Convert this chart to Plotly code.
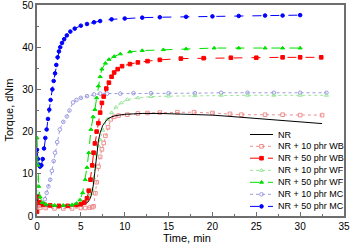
import plotly.graph_objects as go

# ---------------- data ----------------
nr_t = [0, 0.2, 0.5, 1, 2, 3, 4, 5, 5.5, 5.8, 6.0, 6.2, 6.4, 6.6, 6.8, 7.0, 7.2, 7.5, 8.0, 8.5, 9.0, 9.5,
        10, 11, 12, 14, 16, 18, 20, 22, 24, 26, 28, 30, 32.5]
nr_T = [4.0, 3.0, 2.6, 2.4, 2.3, 2.3, 2.4, 2.6, 2.9, 3.3, 3.9, 5.0, 7.0, 10.5, 15.0, 17.8, 19.7, 21.5, 22.9, 23.5, 23.8, 24.0,
        24.1, 24.2, 24.3, 24.3, 24.2, 24.0, 23.9, 23.6, 23.3, 23.0, 22.7, 22.4, 21.9]

wb10_t = [0, 0.15, 0.4, 1, 2, 3, 4, 5, 5.5, 6.0, 6.3, 6.45, 6.65, 6.8, 7.0, 7.2, 7.4, 7.6, 7.8, 8.1, 8.4, 8.8,
          9.3, 10.3, 11.5, 12.6, 14, 16, 17.9, 20, 22, 23.3, 26, 28, 30, 32.5]
wb10_T = [3.5, 2.5, 2.0, 1.9, 1.8, 1.8, 1.8, 1.9, 1.9, 2.0, 2.1, 2.3, 5.4, 8.0, 11.7, 14.0, 15.8, 17.3, 19.0, 21.0, 22.9, 23.5,
          23.8, 24.0, 24.3, 24.4, 24.5, 24.6, 24.6, 24.4, 24.2, 24.0, 24.0, 24.0, 23.9, 23.9]

wb50_t = [0, 0.05, 0.3, 0.7, 1.5, 2.5, 3.5, 4.5, 5.0, 5.4, 5.7, 5.9, 6.1, 6.3, 6.45, 6.6, 6.8, 7.0, 7.2, 7.4,
          7.6, 7.9, 8.2, 8.5, 8.8, 9.2, 9.7, 10.6, 11.5, 12.6, 14, 16.4, 19, 22.1, 25, 28, 30, 32.4]
wb50_T = [1.0, 4.6, 3.2, 2.7, 2.5, 2.4, 2.4, 2.6, 2.8, 3.2, 4.2, 6.0, 8.6, 12.0, 15.0, 17.2, 20.0, 22.0, 24.5, 26.8,
          28.3, 30.2, 31.6, 33.0, 34.0, 34.8, 35.5, 36.0, 36.4, 36.7, 37.0, 37.3, 37.4, 37.5, 37.5, 37.6, 37.6, 37.6]

wf10_t = [0, 0.15, 0.4, 1, 2, 3, 4, 5, 5.5, 5.9, 6.1, 6.3, 6.45, 6.6, 6.8, 7.0, 7.2, 7.5, 8.0, 8.5, 9.0,
          9.6, 10.3, 11.5, 13, 15, 18, 21, 24, 27, 30, 33]
wf10_T = [9.0, 5.0, 3.2, 2.8, 2.6, 2.6, 2.7, 3.0, 3.6, 4.6, 5.3, 6.2, 9.0, 11.7, 14.5, 16.6, 18.1, 20.3, 22.9, 24.5, 25.8,
          26.8, 27.6, 28.0, 28.3, 28.4, 28.5, 28.6, 28.6, 28.6, 28.6, 28.6]

wf50_t = [0, 0.1, 0.2, 0.35, 0.6, 1.0, 2, 3, 4, 4.5, 4.9, 5.2, 5.5, 5.7, 5.9, 6.15, 6.4, 6.6, 6.8, 7.0,
          7.2, 7.4, 7.8, 8.2, 8.8, 9.5, 10.6, 12, 14.4, 17, 20.2, 23, 26, 28, 30]
wf50_T = [18.5, 12.0, 7.0, 4.5, 3.2, 2.8, 2.5, 2.5, 2.6, 3.0, 3.8, 5.5, 8.6, 11.5, 15.0, 20.5, 23.5, 25.2, 28.0, 30.8,
          33.0, 34.8, 36.2, 37.1, 37.8, 38.4, 38.9, 39.2, 39.4, 39.6, 39.8, 39.8, 39.8, 39.8, 39.8]

mc10_t = [0, 0.3, 0.5, 0.7, 0.9, 1.1, 1.3, 1.5, 1.7, 1.9, 2.06, 2.3, 2.6, 3.0, 3.4, 3.7, 4.1, 4.5, 5.0,
          5.7, 6.5, 7.2, 8, 9.5, 11, 13, 15, 18, 21, 24, 27, 30, 33]
mc10_T = [2.8, 2.6, 2.7, 3.0, 4.0, 5.5, 7.0, 8.6, 10.7, 13.0, 15.0, 17.5, 20.5, 22.3, 23.6, 25.0, 26.9, 27.5, 28.0,
          28.4, 28.8, 29.0, 29.0, 29.0, 29.1, 29.1, 29.1, 29.1, 29.2, 29.2, 29.2, 29.2, 29.2]

mc50_t = [0, 0.1, 0.2, 0.35, 0.5, 0.65, 0.8, 0.95, 1.1, 1.25, 1.4, 1.55, 1.75, 1.9, 2.06, 2.2, 2.35, 2.5, 2.65,
          2.85, 3.1, 3.4, 3.8, 4.3, 5.0, 5.7, 6.5, 7.2, 8.5, 10, 12, 14, 17, 20, 23, 26, 28, 30]
mc50_T = [15.7, 13.5, 12.2, 11.7, 12.0, 13.5, 16.0, 18.5, 20.5, 23.0, 25.2, 27.5, 30.0, 32.0, 33.8, 35.8, 37.6, 39.0, 40.0,
          41.0, 41.9, 42.8, 43.7, 44.4, 45.1, 45.5, 45.9, 46.2, 46.6, 46.8, 47.0, 47.1, 47.2, 47.3, 47.4, 47.5, 47.5, 47.6]

labels = ["NR", "NR + 10 phr WB", "NR + 50 phr WB", "NR + 10 phr WF",
          "NR + 50 phr WF", "NR + 10 phr MC", "NR + 50 phr MC"]

x_ticks = [0, 5, 10, 15, 20, 25, 30, 35]
y_ticks = [0, 10, 20, 30, 40, 50]

# ---------------- styles ----------------
styles = [
    dict(color="#000000", dash="solid", symbol=None),
    dict(color="#ee8f8f", dash="dot", symbol="square-open"),
    dict(color="#ff0000", dash="dash", symbol="square"),
    dict(color="#99e699", dash="dot", symbol="triangle-up-open"),
    dict(color="#00e000", dash="dash", symbol="triangle-up"),
    dict(color="#9a9ae0", dash="dot", symbol="circle-open"),
    dict(color="#0000ff", dash="dash", symbol="circle"),
]
series = [(nr_t, nr_T), (wb10_t, wb10_T), (wb50_t, wb50_T), (wf10_t, wf10_T),
          (wf50_t, wf50_T), (mc10_t, mc10_T), (mc50_t, mc50_T)]

FONT = "Arial, Liberation Sans, sans-serif"
MS = 3.6
fig = go.Figure()

order = [5, 6, 1, 3, 0, 2, 4]
for i in order:
    t, T = series[i]
    st = styles[i]
    if st["symbol"] is None:
        fig.add_trace(go.Scatter(x=t, y=T, mode="lines", showlegend=False,
                                 line=dict(color=st["color"], width=1, dash=st["dash"])))
    else:
        fig.add_trace(go.Scatter(x=t, y=T, mode="lines+markers", showlegend=False,
                                 line=dict(color=st["color"], width=1, dash=st["dash"]),
                                 marker=dict(symbol=st["symbol"], size=MS, color=st["color"],
                                             line=dict(color=st["color"], width=1))))

# ---------------- hand-made compact legend (pixel frame overlay) ----------------
row_y = [134.5, 146.3, 158.2, 170.3, 182.3, 194.3, 206.4]
for i, lab in enumerate(labels):
    st = styles[i]
    fig.add_trace(go.Scatter(x=[250, 273], y=[row_y[i], row_y[i]], mode="lines", xaxis="x2", yaxis="y2",
                             showlegend=False, hoverinfo="skip",
                             line=dict(color=st["color"], width=1, dash=st["dash"])))
    if st["symbol"] is not None:
        fig.add_trace(go.Scatter(x=[261.5], y=[row_y[i]], mode="markers", xaxis="x2", yaxis="y2",
                                 showlegend=False, hoverinfo="skip",
                                 marker=dict(symbol=st["symbol"], size=MS, color=st["color"],
                                             line=dict(color=st["color"], width=1))))
    fig.add_annotation(x=275.5, y=row_y[i], xref="x2", yref="y2", text=lab, showarrow=False,
                       xanchor="left", yanchor="middle", font=dict(family=FONT, size=9, color="#000"))

# axis titles (paper coordinates)
fig.add_annotation(x=0.489, y=0.0, xref="paper", yref="paper", yshift=-22, text="Time, min", showarrow=False,
                   xanchor="center", yanchor="middle", font=dict(family=FONT, size=11, color="#000"))
fig.add_annotation(x=0.0, y=0.5, xref="paper", yref="paper", xshift=-29, text="Torque, dNm", showarrow=False,
                   textangle=-90, xanchor="center", yanchor="middle", font=dict(family=FONT, size=11, color="#000"))

axcol = "#6e6e6e"
fig.update_layout(
    width=350, height=252,
    margin=dict(l=37, r=6, t=5, b=36, autoexpand=False),
    paper_bgcolor="white", plot_bgcolor="white",
    font=dict(family=FONT, size=10, color="#000"),
    showlegend=False,
    xaxis=dict(range=[0, 35], tickvals=x_ticks, ticks="inside", ticklen=4, tickwidth=1, tickcolor=axcol,
               minor=dict(dtick=2.5, ticks="inside", ticklen=2, tickcolor=axcol), automargin=False,
               ticklabeloverflow="allow",
               showline=True, linecolor=axcol, linewidth=1.5, mirror=True, showgrid=False, zeroline=False,
               tickfont=dict(size=10)),
    yaxis=dict(range=[0, 50], tickvals=y_ticks, ticks="inside", ticklen=4, tickwidth=1, tickcolor=axcol,
               minor=dict(dtick=5, ticks="inside", ticklen=2, tickcolor=axcol), automargin=False,
               ticklabeloverflow="allow",
               showline=True, linecolor=axcol, linewidth=1.5, mirror=True, showgrid=False, zeroline=False,
               tickfont=dict(size=10)),
    xaxis2=dict(overlaying="x", range=[37, 344], visible=False, anchor="y2", automargin=False),
    yaxis2=dict(overlaying="y", range=[216, 5], visible=False, anchor="x2", automargin=False),
)

fig.write_html("out.html", config={"displayModeBar": False},
               post_script="document.body.style.margin='0px';document.body.style.padding='0px';")
